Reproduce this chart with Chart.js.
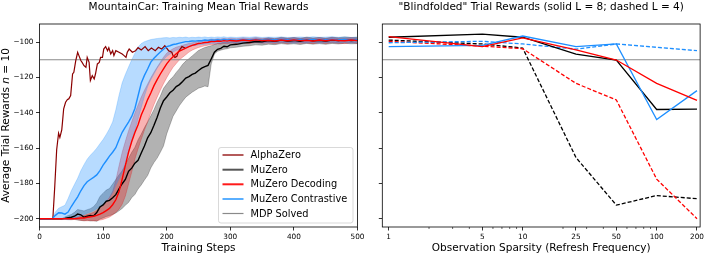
<!DOCTYPE html>
<html>
<head>
<meta charset="utf-8">
<script src="https://cdn.jsdelivr.net/npm/chart.js@4.4.1/dist/chart.umd.min.js"></script>
<style>
  html, body { margin: 0; padding: 0; background: #fff; }
  #wrap { position: relative; width: 706px; height: 254px; overflow: hidden; background: #fff; }
  #left { position: absolute; left: 0; top: 0; }
  #right { position: absolute; left: 372px; top: 0; }
</style>
</head>
<body>
<div id="wrap">
  <canvas id="left" width="372" height="254"></canvas>
  <canvas id="right" width="334" height="254"></canvas>
</div>
<script>
// ---- left panel: training curves ----
const steps = [
  0, 5, 10, 15, 20, 25, 30, 35, 40, 45,
  50, 55, 60, 65, 70, 75, 80, 85, 90, 95,
  100, 105, 110, 115, 120, 125, 130, 135, 140, 145,
  150, 155, 160, 165, 170, 175, 180, 185, 190, 195,
  200, 205, 210, 215, 220, 225, 230, 235, 240, 245,
  250, 255, 260, 265, 270, 275, 280, 285, 290, 295,
  300, 310, 320, 330, 340, 350, 360, 370, 380, 390,
  400, 410, 420, 430, 440, 450, 460, 470, 480, 490,
  500
];

const muzeroMean = [
  -200, -200, -200, -200, -200, -200, -200, -200, -199.8, -199.4,
  -199.2, -198.6, -197.4, -197.8, -199.2, -198.6, -198.2, -198.4, -196.5, -193.4,
  -192.2, -190.1, -189.6, -188.2, -186.4, -183.1, -180.2, -177.8, -173.2, -171.4,
  -168.6, -166.9, -162.8, -158.9, -154.2, -151.3, -147.1, -142.6, -137.4, -133.2,
  -131.1, -128.7, -127.3, -125.2, -124.1, -122.3, -120.4, -119.6, -118.3, -117.6,
  -116.1, -114.8, -113.9, -113.2, -109.6, -105.8, -104.1, -103.6, -102.4, -102.7,
  -101.6, -101.3, -100.6, -100.3, -99.7, -99.9, -99.2, -99.6, -98.9, -99.4,
  -99.1, -99.6, -98.8, -99.3, -99.0, -99.5, -98.9, -99.2, -98.7, -99.1,
  -98.9
];
const muzeroLow = [
  -200, -200, -200, -200, -200, -200, -200, -200, -200.3, -200.5,
  -200.6, -200.4, -200.8, -201, -201.2, -200.9, -201.3, -201.1, -201.5, -200.2,
  -199.6, -198.8, -198.4, -197.6, -196.8, -195.5, -194.2, -192.4, -190.8, -188.1,
  -186.3, -183.2, -180.9, -178.1, -175.6, -171.3, -168.2, -165.7, -162.4, -158.8,
  -152, -147, -142, -139, -136, -133.5, -131.2, -129.8, -128.4, -127.3,
  -126.1, -125.6, -124.9, -125.3, -112.4, -106.8, -105.2, -104.6, -104.1, -103.8,
  -103.3, -102.9, -102.4, -102.1, -101.6, -101.8, -101.2, -101.5, -100.9, -101.3,
  -101.0, -101.4, -100.8, -101.2, -100.9, -101.3, -100.8, -101.1, -100.7, -101.0,
  -100.9
];
const muzeroHigh = [
  -200, -200, -200, -200, -200, -200, -200, -200, -199, -198.2,
  -197.6, -196.4, -194.8, -195.2, -195.6, -194.9, -194.3, -193.2, -191.1, -187.4,
  -185.6, -183.8, -182.9, -180.4, -177.8, -175.2, -172.9, -169.4, -165.8, -162.4,
  -159.6, -155.3, -152.1, -148.4, -145.2, -141.8, -138.3, -134.1, -130.6, -126.2,
  -123.8, -121.4, -119.7, -117.2, -115.1, -112.6, -110.8, -109.4, -107.9, -106.3,
  -104.8, -103.9, -103.1, -102.6, -102.1, -101.4, -100.8, -100.6, -100.1, -100.3,
  -99.8, -99.6, -99.1, -98.8, -98.2, -98.4, -97.6, -98.1, -97.3, -97.8,
  -97.5, -98.0, -97.2, -97.7, -97.4, -97.9, -97.3, -97.6, -97.1, -97.5,
  -97.3
];

const decodingMean = [
  -200, -200, -200, -200, -200, -200, -200, -200, -200, -200,
  -200, -200, -199.8, -199.6, -199.6, -199.2, -198.9, -198.6, -198.1, -197.4,
  -196.6, -195.4, -194.2, -192.1, -189.3, -184.8, -177.6, -169.8, -162.4, -156.3,
  -151.2, -146.8, -141.3, -137.2, -132.6, -128.9, -124.7, -121.3, -118.1, -115.2,
  -112.4, -110.1, -108.3, -106.6, -105.2, -104.3, -103.4, -102.6, -101.9, -101.4,
  -100.8, -100.6, -100.3, -100.1, -99.7, -99.8, -99.4, -99.6, -99.2, -99.5,
  -99.1, -99.4, -98.9, -99.3, -98.8, -99.2, -99.0, -99.4, -98.9, -99.3,
  -98.8, -99.2, -99.0, -99.4, -98.9, -99.3, -98.8, -99.1, -99.3, -98.9,
  -99.2
];
const decodingLow = [
  -200, -200, -200, -200, -200, -200, -200, -200, -200, -200,
  -200, -200, -200.6, -200.9, -201.1, -201.2, -201.0, -201.3, -201.1, -200.8,
  -200.4, -199.8, -199.1, -197.9, -196.3, -194.6, -191.8, -187.2, -180.4, -173.6,
  -166.2, -160.4, -155.1, -149.8, -145.3, -140.1, -135.4, -131.2, -127.3, -123.6,
  -120.2, -117.1, -114.3, -112.2, -110.1, -108.6, -107.2, -105.7, -104.6, -103.8,
  -103.1, -102.6, -102.1, -101.8, -101.5, -101.3, -101.0, -101.2, -100.8, -101.0,
  -100.6, -100.9, -100.4, -100.8, -100.3, -100.7, -100.5, -100.9, -100.4, -100.8,
  -100.3, -100.7, -100.5, -100.9, -100.4, -100.8, -100.3, -100.7, -100.9, -100.4,
  -100.8
];
const decodingHigh = [
  -200, -200, -200, -200, -200, -200, -200, -200, -200, -200,
  -200, -199.5, -199.1, -198.6, -198.2, -197.6, -197.1, -196.4, -195.3, -193.8,
  -192.2, -190.4, -187.9, -184.6, -178.3, -170.1, -162.4, -156.2, -150.3, -145.1,
  -140.2, -135.6, -131.1, -127.3, -123.8, -120.2, -117.1, -114.2, -111.4, -108.6,
  -106.3, -104.9, -103.8, -102.9, -102.4, -101.8, -101.3, -100.8, -100.4, -100.1,
  -99.6, -99.4, -99.0, -98.8, -98.3, -98.5, -98.1, -98.3, -97.9, -98.2,
  -97.8, -98.1, -97.6, -98.0, -97.5, -97.9, -97.7, -98.1, -97.6, -97.9,
  -97.5, -97.8, -97.6, -98.0, -97.5, -97.9, -97.4, -97.8, -98.0, -97.5,
  -97.9
];

const contrastiveMean = [
  -200, -200, -200, -200, -200, -198.1, -196.6, -196.8, -197.4, -196.2,
  -193.1, -190.4, -187.6, -184.2, -181.3, -179.1, -177.8, -176.6, -175.2, -172.8,
  -169.7, -167.2, -164.6, -162.4, -159.8, -155.3, -151.1, -148.2, -145.3, -142.1,
  -137.6, -130.4, -123.2, -118.9, -115.3, -111.4, -109.2, -107.3, -105.6, -104.1,
  -102.6, -102.1, -101.4, -101.1, -100.6, -100.2, -99.8, -99.7, -99.4, -99.5,
  -99.2, -99.3, -98.9, -99.1, -98.8, -99.0, -98.7, -98.9, -98.6, -98.8,
  -98.7, -98.9, -98.6, -98.8, -98.5, -98.9, -98.6, -98.8, -98.5, -98.7,
  -98.9, -98.6, -98.8, -98.5, -98.9, -98.7, -98.5, -98.8, -98.6, -98.9,
  -98.7
];
const contrastiveLow = [
  -200, -200, -200, -200, -200, -200.2, -200.3, -200.5, -200.4, -200.6,
  -200.2, -199.6, -199.1, -198.4, -197.6, -196.9, -196.2, -195.4, -194.3, -193.2,
  -192.1, -190.4, -188.2, -185.3, -181.1, -177.6, -173.8, -168.2, -162.1, -156.3,
  -150.2, -143.4, -137.1, -130.6, -125.2, -121.3, -118.1, -114.8, -112.2, -109.9,
  -108.1, -106.8, -105.6, -104.7, -104.1, -103.5, -103.0, -102.6, -102.2, -101.9,
  -101.6, -101.4, -101.2, -101.0, -100.8, -100.9, -100.6, -100.8, -100.5, -100.7,
  -100.4, -100.6, -100.3, -100.5, -100.2, -100.6, -100.3, -100.5, -100.2, -100.4,
  -100.6, -100.3, -100.5, -100.2, -100.6, -100.4, -100.2, -100.5, -100.3, -100.6,
  -100.4
];
const contrastiveHigh = [
  -200, -200, -200, -200, -200, -196.2, -194.1, -193.2, -192.4, -188.6,
  -184.2, -180.6, -177.1, -172.8, -169.4, -166.3, -164.1, -162.2, -160.1, -157.6,
  -155.2, -152.3, -149.1, -145.2, -138.4, -130.2, -123.1, -118.4, -114.2, -110.1,
  -106.3, -102.8, -100.9, -99.8, -99.2, -98.6, -98.3, -98.0, -97.8, -97.6,
  -97.5, -97.7, -97.4, -97.6, -97.3, -97.5, -97.2, -97.6, -97.3, -97.5,
  -97.2, -97.4, -97.1, -97.5, -97.2, -97.4, -97.1, -97.3, -97.0, -97.4,
  -97.2, -97.4, -97.1, -97.3, -97.0, -97.4, -97.2, -97.3, -97.1, -97.4,
  -97.3, -97.1, -97.4, -97.0, -97.3, -97.2, -97.0, -97.3, -97.1, -97.4,
  -97.2
];

// AlphaZero was logged on its own step grid and stops early
const alphaSteps = [
  0, 5, 10, 15, 21, 24, 27, 30, 32, 35,
  36, 38, 41, 44, 46, 49, 52, 54, 57, 60,
  62, 65, 67, 70, 73, 75, 78, 80, 83, 86,
  88, 91, 94, 96, 99, 101, 104, 107, 109, 112,
  115, 117, 120, 125, 130, 133, 136, 138, 141, 146,
  151, 155, 160, 166, 171, 176, 182, 187, 192, 197,
  203, 208, 210, 213, 216, 218, 224, 229
];
const alphaRewards = [
  -200, -200, -200, -200, -200, -181.7, -161, -151.6, -154, -149.7,
  -145.9, -137.8, -134.1, -132.5, -132.2, -130.3, -118.1, -117.1, -110.5, -105.8,
  -107.7, -110.5, -111.5, -113.4, -114.3, -108.7, -111.5, -121.8, -119, -120.9,
  -118.1, -112.4, -111.5, -108.7, -108.7, -104, -102.6, -104.9, -103.2, -106.8,
  -104.9, -107.7, -104.9, -105.8, -106.8, -107.7, -108.7, -105.8, -104, -105.8,
  -104.9, -103.2, -104.5, -102.6, -104.9, -103.4, -104.9, -103, -104, -102.1,
  -104.9, -105.8, -107.7, -108.7, -108.1, -105.8, -102.6, -103.4
];

const solvedReward = -110;
const stepTicks = [0, 100, 200, 300, 400, 500];
const rewardTicks = [-200, -180, -160, -140, -120, -100];

// ---- right panel: blindfolded evaluation ----
const sparsity = [1, 5, 10, 25, 50, 100, 200];
const sparsityMinor = [2, 3, 4, 6, 7, 8, 9, 20, 30, 40, 60, 70, 80, 90];
const muzeroL8 = [-97.3, -95.5, -97.3, -106.8, -110.2, -138.2, -138.0];
const decodingL8 = [-97.0, -102.6, -97.7, -104.5, -110.2, -123.4, -133.0];
const contrastiveL8 = [-102.6, -101.9, -96.6, -102.6, -101.1, -143.9, -127.5];
const muzeroL4 = [-98.9, -101.1, -103.4, -165.4, -192.3, -186.9, -188.7];
const decodingL4 = [-99.6, -102.3, -103.8, -123.4, -132.8, -177.6, -200.0];
const contrastiveL4 = [-100.4, -99.6, -101.1, -104.0, -101.1, -103.0, -104.9];

const Y_MIN = -204.7, Y_MAX = -89.8;
const SP_MIN = 0.896, SP_MAX = 211;

const FONT = '"DejaVu Sans", "Liberation Sans", sans-serif';
Chart.defaults.font.family = FONT;

const colors = {
  alpha: '#8b0000',
  muzero: '#000000',
  decoding: '#ff0000',
  contrastive: '#1e8fff',
  solved: '#8a8a8a'
};

function pts(xs, ys) {
  return xs.map((x, i) => ({ x: x, y: ys[i] }));
}

function minusFmt(v) {
  return v < 0 ? '\u2212' + Math.abs(v) : String(v);
}

// frame, titles, axis labels, minor ticks and legend
const decor = {
  id: 'decor',
  afterDraw(chart, args, opts) {
    const ctx = chart.ctx;
    const a = chart.chartArea;
    const cx = (a.left + a.right) / 2;
    ctx.save();

    // minor ticks (log axis)
    if (opts.minorTicks) {
      const xs = chart.scales.x;
      ctx.strokeStyle = '#000';
      ctx.lineWidth = 0.6;
      opts.minorTicks.forEach(v => {
        const px = xs.getPixelForValue(v);
        ctx.beginPath();
        ctx.moveTo(px, a.bottom);
        ctx.lineTo(px, a.bottom + 2);
        ctx.stroke();
      });
    }

    // axes frame
    ctx.strokeStyle = '#000';
    ctx.lineWidth = 0.8;
    ctx.strokeRect(a.left, a.top, a.right - a.left, a.bottom - a.top);

    ctx.fillStyle = '#000';
    ctx.font = '10.5px ' + FONT;
    ctx.textAlign = 'center';
    ctx.textBaseline = 'alphabetic';
    ctx.fillText(opts.title, cx, 10);
    ctx.fillText(opts.xlabel, cx, 251);

    // y label with italic n
    if (opts.ylabel) {
      const parts = opts.ylabel;
      let total = 0;
      parts.forEach(p => {
        ctx.font = (p.italic ? 'italic ' : '') + '10.5px ' + FONT;
        p.w = ctx.measureText(p.text).width;
        total += p.w;
      });
      ctx.translate(9, (a.top + a.bottom) / 2);
      ctx.rotate(-Math.PI / 2);
      ctx.textAlign = 'left';
      let x = -total / 2;
      parts.forEach(p => {
        ctx.font = (p.italic ? 'italic ' : '') + '10.5px ' + FONT;
        ctx.fillText(p.text, x, 0);
        x += p.w;
      });
      ctx.setTransform(1, 0, 0, 1, 0, 0);
    }

    // legend
    if (opts.legend) {
      const L = opts.legend;
      ctx.beginPath();
      if (ctx.roundRect) ctx.roundRect(L.x, L.y, L.w, L.h, 2.5);
      else ctx.rect(L.x, L.y, L.w, L.h);
      ctx.fillStyle = 'rgba(255,255,255,0.85)';
      ctx.fill();
      ctx.strokeStyle = '#cfcfcf';
      ctx.lineWidth = 0.8;
      ctx.stroke();
      ctx.font = '9.8px ' + FONT;
      ctx.textAlign = 'left';
      ctx.textBaseline = 'middle';
      L.items.forEach((it, i) => {
        const y = L.rowY[i];
        ctx.strokeStyle = it.color;
        ctx.lineWidth = it.width;
        ctx.beginPath();
        ctx.moveTo(L.x + 4, y);
        ctx.lineTo(L.x + 25, y);
        ctx.stroke();
        ctx.fillStyle = '#000';
        ctx.fillText(it.label, L.x + 32, y + 0.5);
      });
    }
    ctx.restore();
  }
};

function tickFont() {
  return { family: FONT, size: 7.3 };
}

function gridCfg() {
  return { drawOnChartArea: false, drawTicks: true, tickLength: 3.5, tickWidth: 0.8, tickColor: '#000' };
}

function band(xs, lo, hi, fillColor, edgeColor, order) {
  return [
    { data: pts(xs, lo), borderColor: edgeColor, borderWidth: 0.7, pointRadius: 0, fill: false, order: order },
    { data: pts(xs, hi), borderColor: edgeColor, borderWidth: 0.7, pointRadius: 0, fill: '-1', backgroundColor: fillColor, order: order }
  ];
}

function line(xs, ys, color, width, order, dash) {
  return { data: pts(xs, ys), borderColor: color, borderWidth: width, pointRadius: 0, fill: false, order: order, borderDash: dash || [] };
}

new Chart(document.getElementById('left'), {
  type: 'line',
  data: {
    datasets: [
      ...band(steps, muzeroLow, muzeroHigh, 'rgba(0,0,0,0.3)', 'rgba(0,0,0,0.35)', 50),
      ...band(steps, decodingLow, decodingHigh, 'rgba(235,20,20,0.32)', 'rgba(220,0,0,0.35)', 49),
      ...band(steps, contrastiveLow, contrastiveHigh, 'rgba(30,143,255,0.32)', 'rgba(30,143,255,0.35)', 48),
      line([0, 500], [solvedReward, solvedReward], colors.solved, 1.1, 40),
      line(alphaSteps, alphaRewards, colors.alpha, 1.2, 4),
      line(steps, muzeroMean, colors.muzero, 1.4, 3),
      line(steps, contrastiveMean, colors.contrastive, 1.4, 2),
      line(steps, decodingMean, colors.decoding, 1.4, 1)
    ]
  },
  options: {
    responsive: false,
    animation: false,
    events: [],
    layout: { padding: { left: 0, right: 14.5, top: 24, bottom: 0 } },
    elements: { line: { tension: 0 }, point: { radius: 0 } },
    plugins: {
      legend: { display: false },
      tooltip: { enabled: false },
      decor: {
        title: 'MountainCar: Training Mean Trial Rewards',
        xlabel: 'Training Steps',
        ylabel: [{ text: 'Average Trial Rewards ' }, { text: 'n', italic: true }, { text: ' = 10' }],
        legend: {
          x: 218.5, y: 147.5, w: 134.5, h: 75.5,
          rowY: [155, 169.7, 184.3, 199, 213.5],
          items: [
            { label: 'AlphaZero', color: colors.alpha, width: 1.3 },
            { label: 'MuZero', color: '#555555', width: 2 },
            { label: 'MuZero Decoding', color: '#ff1a1a', width: 2 },
            { label: 'MuZero Contrastive', color: '#5aafff', width: 2 },
            { label: 'MDP Solved', color: colors.solved, width: 1.2 }
          ]
        }
      }
    },
    scales: {
      x: {
        type: 'linear', min: 0, max: 500,
        afterBuildTicks: s => { s.ticks = stepTicks.map(v => ({ value: v })); },
        afterFit: s => { s.height = 27; },
        grid: gridCfg(),
        border: { display: false },
        ticks: { color: '#000', font: tickFont(), padding: 2, maxRotation: 0, autoSkip: false }
      },
      y: {
        type: 'linear', min: Y_MIN, max: Y_MAX,
        afterBuildTicks: s => { s.ticks = rewardTicks.map(v => ({ value: v })); },
        afterFit: s => { s.width = 39.5; },
        grid: gridCfg(),
        border: { display: false },
        ticks: { color: '#000', font: tickFont(), padding: 2.5, callback: v => minusFmt(v) }
      }
    }
  },
  plugins: [decor]
});

new Chart(document.getElementById('right'), {
  type: 'line',
  data: {
    datasets: [
      line([SP_MIN, SP_MAX], [solvedReward, solvedReward], colors.solved, 1.1, 40),
      line(sparsity, muzeroL4, colors.muzero, 1.3, 6, [4, 2]),
      line(sparsity, decodingL4, colors.decoding, 1.3, 5, [4, 2]),
      line(sparsity, contrastiveL4, colors.contrastive, 1.3, 4, [4, 2]),
      line(sparsity, muzeroL8, colors.muzero, 1.3, 3),
      line(sparsity, contrastiveL8, colors.contrastive, 1.3, 2),
      line(sparsity, decodingL8, colors.decoding, 1.3, 1)
    ]
  },
  options: {
    responsive: false,
    animation: false,
    events: [],
    layout: { padding: { left: 0, right: 3.7, top: 24, bottom: 0 } },
    elements: { line: { tension: 0 }, point: { radius: 0 } },
    plugins: {
      legend: { display: false },
      tooltip: { enabled: false },
      decor: {
        title: '"Blindfolded" Trial Rewards (solid L = 8; dashed L = 4)',
        xlabel: 'Observation Sparsity (Refresh Frequency)',
        minorTicks: sparsityMinor
      }
    },
    scales: {
      x: {
        type: 'logarithmic', min: SP_MIN, max: SP_MAX,
        afterBuildTicks: s => { s.ticks = sparsity.map(v => ({ value: v })); },
        afterFit: s => { s.height = 27; },
        grid: gridCfg(),
        border: { display: false },
        ticks: { color: '#000', font: tickFont(), padding: 2, maxRotation: 0, autoSkip: false, callback: v => String(v) }
      },
      y: {
        type: 'linear', min: Y_MIN, max: Y_MAX,
        afterBuildTicks: s => { s.ticks = rewardTicks.map(v => ({ value: v })); },
        afterFit: s => { s.width = 10.3; },
        grid: gridCfg(),
        border: { display: false },
        ticks: { display: false }
      }
    }
  },
  plugins: [decor]
});
</script>
</body>
</html>
